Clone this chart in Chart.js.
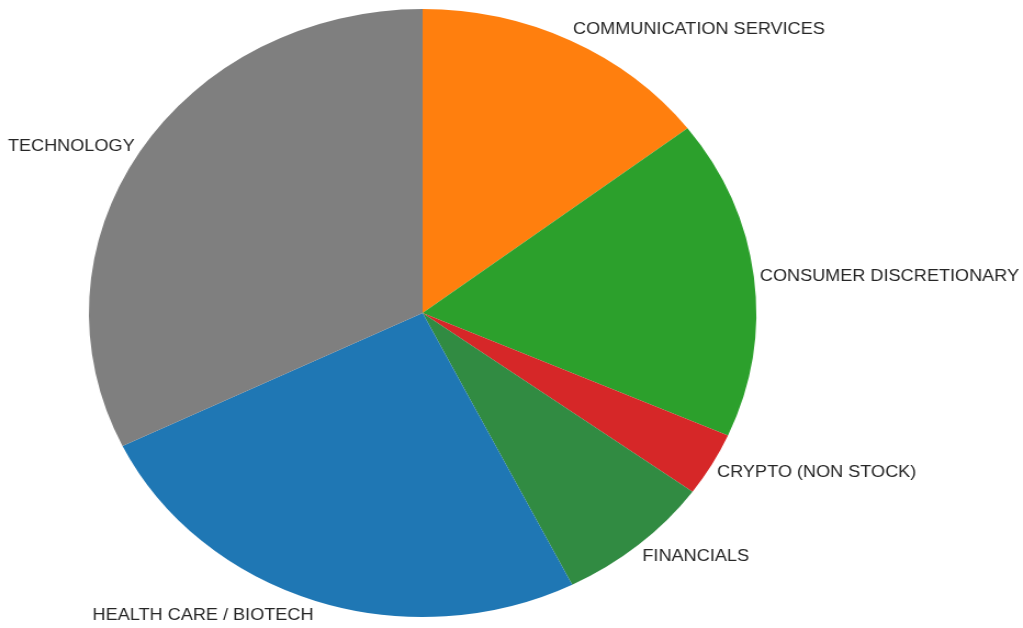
<!DOCTYPE html>
<html>
<head>
<meta charset="utf-8">
<script src="https://cdn.jsdelivr.net/npm/chart.js@4/dist/chart.umd.min.js"></script>
<style>
  html, body { margin: 0; padding: 0; background: #fff; overflow: hidden; }
  #wrap { position: absolute; left: 0; top: 0; width: 932px; height: 628px;
          transform: scaleX(1.0976); transform-origin: 0 0; }
</style>
</head>
<body>
<div id="wrap"><canvas id="c"></canvas></div>
<script>
const sectors = [
  "COMMUNICATION SERVICES",
  "CONSUMER DISCRETIONARY",
  "CRYPTO (NON STOCK)",
  "FINANCIALS",
  "HEALTH CARE / BIOTECH",
  "TECHNOLOGY"
];
const weights = [14.6, 17.0, 3.4, 7.6, 25.2, 32.2];
const sectorColors = ["#ff7f0e", "#2ca02c", "#d62728", "#318b42", "#1f77b4", "#7f7f7f"];

const labelPlugin = {
  id: "outerLabels",
  afterDatasetsDraw(chart) {
    const ctx = chart.ctx;
    const meta = chart.getDatasetMeta(0);
    ctx.save();
    ctx.font = "16.5px 'Liberation Sans', Arial, sans-serif";
    ctx.fillStyle = "#262626";
    ctx.textBaseline = "middle";
    meta.data.forEach((arc, i) => {
      const p = arc.getProps(["x", "y", "startAngle", "endAngle", "outerRadius"], true);
      const mid = (p.startAngle + p.endAngle) / 2;
      const x = p.x + Math.cos(mid) * p.outerRadius * 1.018;
      const y = p.y + Math.sin(mid) * p.outerRadius * 1.045 + 1.5;
      ctx.textAlign = Math.cos(mid) >= 0 ? "left" : "right";
      ctx.fillText(sectors[i], x, y);
    });
    ctx.restore();
  }
};

new Chart(document.getElementById("c"), {
  type: "pie",
  data: {
    labels: sectors,
    datasets: [{
      data: weights,
      backgroundColor: sectorColors,
      borderWidth: 0
    }]
  },
  options: {
    responsive: true,
    maintainAspectRatio: false,
    animation: false,
    layout: { padding: { left: 81, right: 243, top: 9, bottom: 11 } },
    plugins: {
      legend: { display: false },
      tooltip: { enabled: false }
    }
  },
  plugins: [labelPlugin]
});
</script>
</body>
</html>
